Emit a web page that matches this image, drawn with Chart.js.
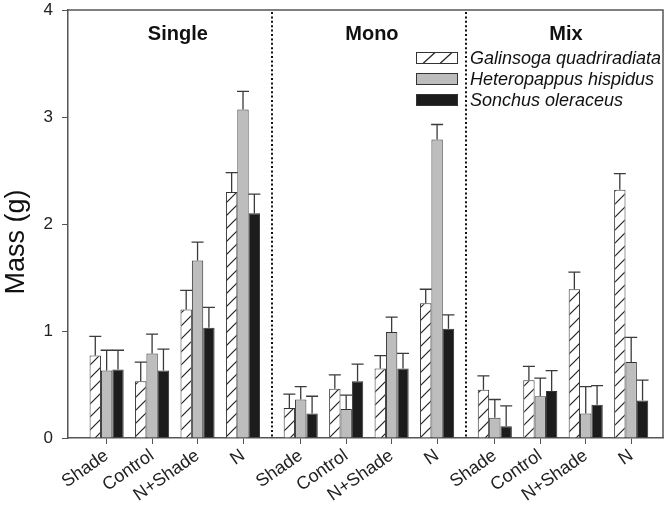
<!DOCTYPE html>
<html>
<head>
<meta charset="utf-8">
<script src="https://cdn.jsdelivr.net/npm/chart.js@4.4.0/dist/chart.umd.min.js"></script>
<style>
html, body { margin: 0; padding: 0; background: #fff; }
</style>
</head>
<body>
<canvas id="myChart" width="666" height="505"></canvas>
<script>
var groups = ['Single', 'Mono', 'Mix'];
var treatments = ['Shade', 'Control', 'N+Shade', 'N'];
var species = ['Galinsoga quadriradiata', 'Heteropappus hispidus', 'Sonchus oleraceus'];
var yTitle = 'Mass (g)';

// means (g), order: Single x4, Mono x4, Mix x4
var galinsoga    = [0.77, 0.53, 1.20, 2.30, 0.28, 0.46, 0.65, 1.26, 0.45, 0.54, 1.39, 2.32];
var heteropappus = [0.63, 0.79, 1.66, 3.07, 0.36, 0.27, 0.99, 2.79, 0.19, 0.39, 0.23, 0.71];
var sonchus      = [0.64, 0.63, 1.03, 2.10, 0.23, 0.53, 0.65, 1.02, 0.11, 0.44, 0.31, 0.35];

// standard errors
var galinsogaSE    = [0.18, 0.18, 0.18, 0.18, 0.13, 0.13, 0.12, 0.13, 0.13, 0.13, 0.16, 0.15];
var heteropappusSE = [0.19, 0.18, 0.17, 0.17, 0.12, 0.13, 0.14, 0.14, 0.17, 0.17, 0.25, 0.23];
var sonchusSE      = [0.18, 0.20, 0.19, 0.18, 0.16, 0.16, 0.14, 0.13, 0.19, 0.19, 0.18, 0.19];

var yTicks = [0, 1, 2, 3, 4];

// x layout: treatments one unit apart, groups a bit further apart
var GROUP_STEP = 4.27;
var positions = [];
groups.forEach(function(g, gi) {
   treatments.forEach(function(t, ti) {
      positions.push(gi * GROUP_STEP + ti);
   });
});

function pts(vals) {
   return vals.map(function(v, i) { return { x: positions[i], y: v }; });
}

function hatch() {
   var c = document.createElement('canvas');
   c.width = 13; c.height = 13;
   var x = c.getContext('2d');
   x.fillStyle = '#fff';
   x.fillRect(0, 0, 13, 13);
   x.strokeStyle = '#222';
   x.lineWidth = 1.2;
   x.beginPath();
   x.moveTo(0, 13); x.lineTo(13, 0);
   x.moveTo(-2, 2); x.lineTo(2, -2);
   x.moveTo(11, 15); x.lineTo(15, 11);
   x.stroke();
   return x.createPattern(c, 'repeat');
}

var ctx = document.getElementById('myChart').getContext('2d');
var hatchFill = hatch();
var fills = ['#fff', '#bdbdbd', '#1c1c1c'];

var decor = {
   id: 'decor',
   afterDatasetsDraw: function(chart) {
      var c = chart.ctx, a = chart.chartArea, xs = chart.scales.x, ys = chart.scales.y;
      c.save();

      // error bars (upper only)
      chart.data.datasets.forEach(function(ds, di) {
         var meta = chart.getDatasetMeta(di);
         meta.data.forEach(function(bar, j) {
            var top = ys.getPixelForValue(ds.data[j].y + ds.errors[j]);
            c.strokeStyle = '#3a3a3a';
            c.lineWidth = 1.3;
            c.beginPath();
            c.moveTo(bar.x, bar.y); c.lineTo(bar.x, top);
            c.moveTo(bar.x - 6, top); c.lineTo(bar.x + 6, top);
            c.stroke();
         });
      });

      // top and right frame
      c.strokeStyle = '#555';
      c.lineWidth = 1.5;
      c.beginPath();
      c.moveTo(a.left, a.top); c.lineTo(a.right, a.top); c.lineTo(a.right, a.bottom);
      c.stroke();

      // dotted separators
      c.strokeStyle = '#111';
      c.lineWidth = 2;
      c.setLineDash([2, 2.4]);
      for (var g = 0; g < groups.length - 1; g++) {
         var sx = Math.round(xs.getPixelForValue((positions[g * 4 + 3] + positions[g * 4 + 4]) / 2));
         c.beginPath();
         c.moveTo(sx, a.top + 2); c.lineTo(sx, a.bottom);
         c.stroke();
      }
      c.setLineDash([]);

      // group titles
      c.fillStyle = '#111';
      c.font = 'bold 20px "Liberation Sans", Arial, sans-serif';
      c.textAlign = 'center';
      c.textBaseline = 'middle';
      groups.forEach(function(name, gi) {
         var cx = (xs.getPixelForValue(positions[gi * 4]) + xs.getPixelForValue(positions[gi * 4 + 3])) / 2;
         c.fillText(name, cx + 3, a.top + 24);
      });

      // legend
      var lx = a.right - 247, ly = a.top + 48;
      c.font = 'italic 18px "Liberation Sans", Arial, sans-serif';
      c.textAlign = 'left';
      species.forEach(function(name, si) {
         var y = ly + si * 21;
         c.fillStyle = fills[si];
         c.fillRect(lx, y - 5.5, 41, 11);
         if (si === 0) {
            c.strokeStyle = '#222';
            c.lineWidth = 1.2;
            c.beginPath();
            c.moveTo(lx + 7, y + 5.5); c.lineTo(lx + 19, y - 5.5);
            c.moveTo(lx + 24, y + 5.5); c.lineTo(lx + 36, y - 5.5);
            c.stroke();
         }
         c.strokeStyle = '#333';
         c.lineWidth = 1;
         c.strokeRect(lx + 0.5, y - 5.5, 41, 11);
         c.fillStyle = '#111';
         c.fillText(name, lx + 54, y + 1);
      });

      // y axis title
      c.save();
      c.translate(24, (a.top + a.bottom) / 2 + 18);
      c.rotate(-Math.PI / 2);
      c.font = '27px "Liberation Sans", Arial, sans-serif';
      c.textAlign = 'center';
      c.textBaseline = 'alphabetic';
      c.fillStyle = '#111';
      c.fillText(yTitle, 0, 0);
      c.restore();

      c.restore();
   }
};

var chart = new Chart(ctx, {
   type: 'bar',
   data: {
      datasets: [{
         label: species[0],
         data: pts(galinsoga),
         errors: galinsogaSE,
         backgroundColor: hatchFill,
         borderColor: '#333',
         borderWidth: 1
      }, {
         label: species[1],
         data: pts(heteropappus),
         errors: heteropappusSE,
         backgroundColor: '#bdbdbd',
         borderColor: '#333',
         borderWidth: 1
      }, {
         label: species[2],
         data: pts(sonchus),
         errors: sonchusSE,
         backgroundColor: '#1c1c1c',
         borderColor: '#333',
         borderWidth: 1
      }]
   },
   options: {
      responsive: false,
      animation: false,
      devicePixelRatio: 1,
      layout: { padding: { left: 0, top: 10, right: 3, bottom: 0 } },
      datasets: { bar: { categoryPercentage: 0.75, barPercentage: 1.0 } },
      plugins: { legend: { display: false }, tooltip: { enabled: false } },
      scales: {
         x: {
            type: 'linear',
            offset: false,
            min: positions[0] - 0.85,
            max: positions[positions.length - 1] + 0.7,
            grid: { drawOnChartArea: false, drawTicks: true, tickLength: 6, color: '#555', offset: false },
            border: { display: true, color: '#555', width: 1.5 },
            afterBuildTicks: function(scale) {
               scale.ticks = positions.map(function(p) { return { value: p }; });
            },
            afterFit: function(scale) {
               scale.height = 67;
               scale.paddingLeft = 0;
               scale.paddingRight = 0;
            },
            ticks: {
               autoSkip: false,
               minRotation: 35,
               maxRotation: 35,
               padding: 1,
               color: '#222',
               font: { family: '"Liberation Sans", Arial, sans-serif', size: 18 },
               callback: function(v, i) { return treatments[i % treatments.length]; }
            }
         },
         y: {
            min: 0,
            max: 4,
            afterBuildTicks: function(scale) {
               scale.ticks = yTicks.map(function(v) { return { value: v }; });
            },
            afterFit: function(scale) {
               scale.width = 68;
               scale.paddingTop = 0;
               scale.paddingBottom = 0;
            },
            grid: { drawOnChartArea: false, drawTicks: true, tickLength: 6, color: '#555' },
            border: { display: true, color: '#555', width: 1.5 },
            ticks: {
               padding: 9,
               color: '#222',
               font: { family: '"Liberation Sans", Arial, sans-serif', size: 17 }
            }
         }
      }
   },
   plugins: [decor]
});
</script>
</body>
</html>
